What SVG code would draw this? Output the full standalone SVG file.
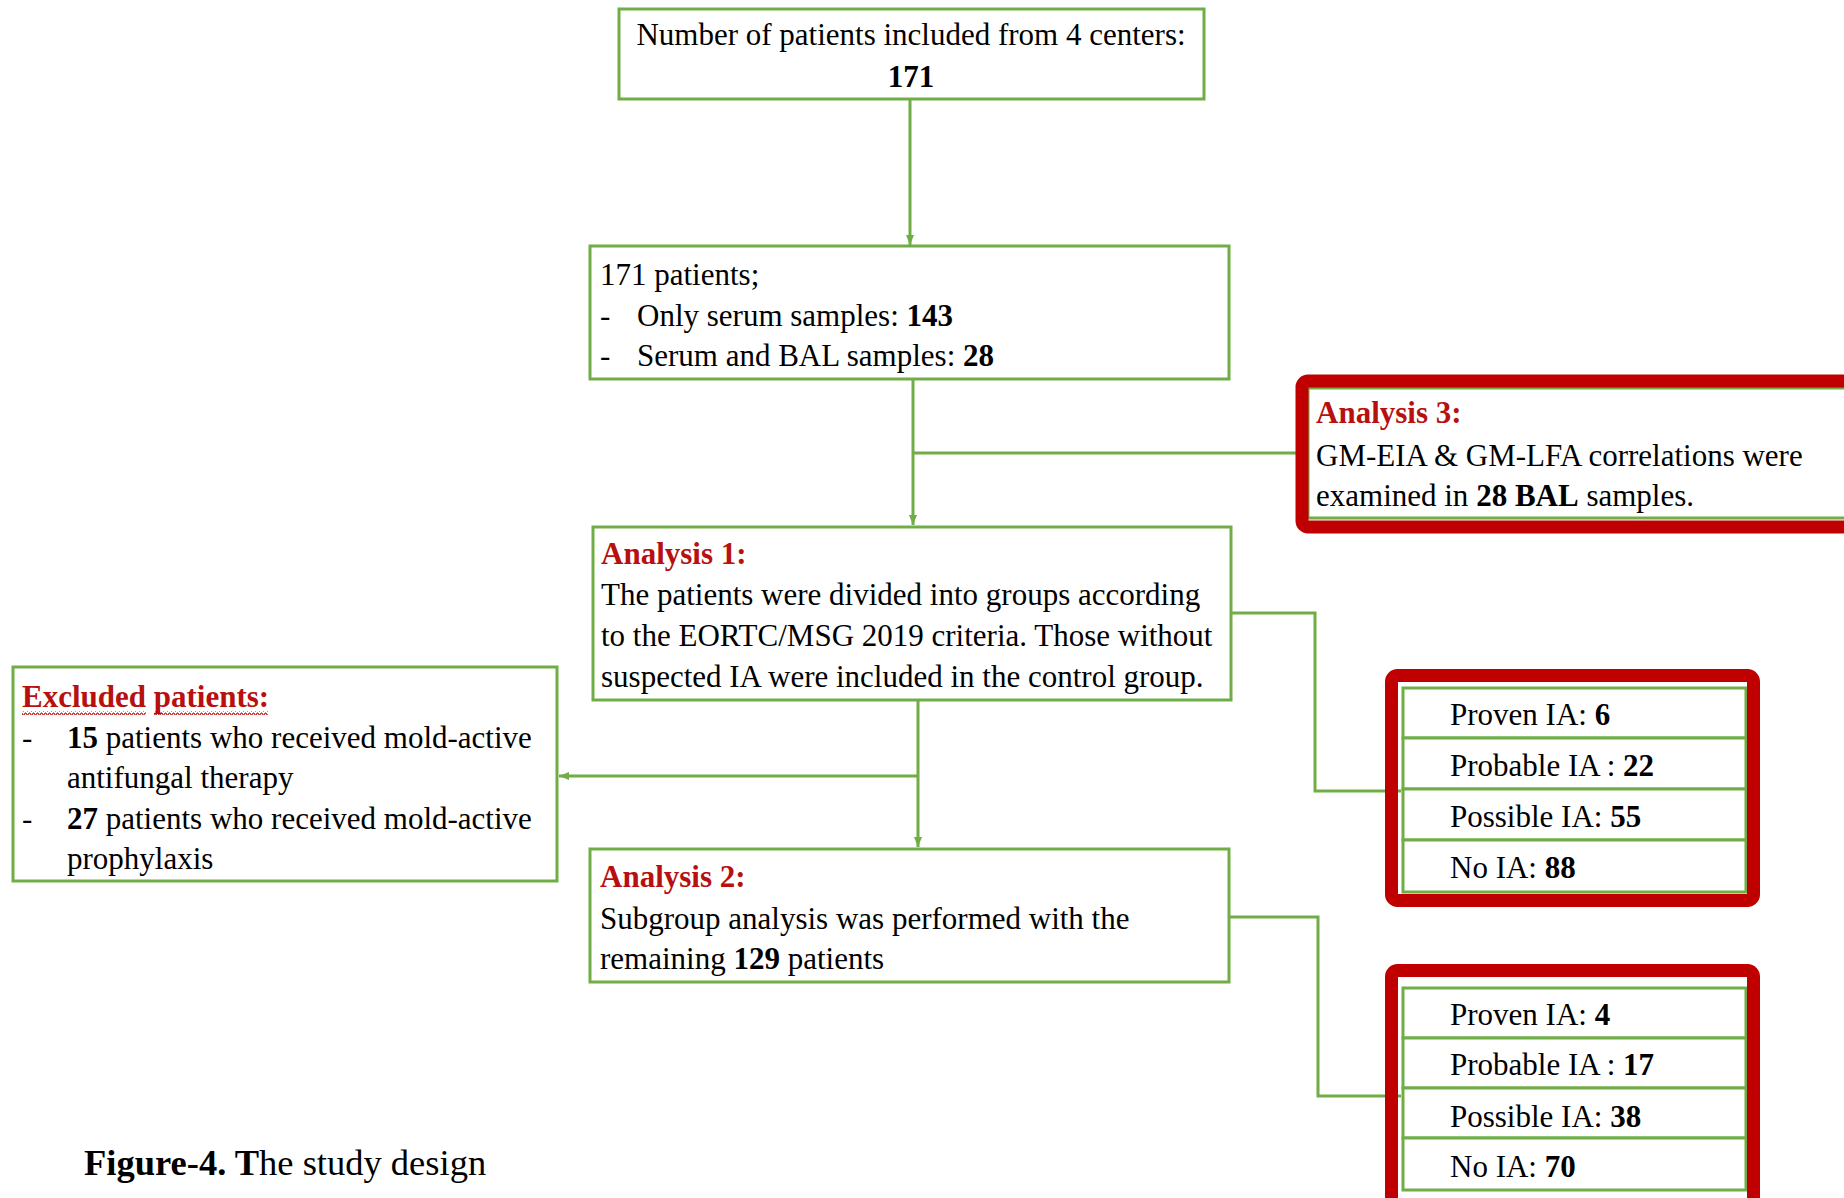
<svg xmlns="http://www.w3.org/2000/svg" width="1844" height="1198" viewBox="0 0 1844 1198">
<style>
  text { font-family: "Liberation Serif", "Times New Roman", serif; font-size: 31px; fill: #000; }
  .b { font-weight: bold; }
  .red { fill: #B80F0F; font-weight: bold; }
  .box { fill: #fff; stroke: #70AD47; stroke-width: 3; }
  .frame { fill: none; stroke: #C00000; stroke-width: 13; }
  .conn { fill: none; stroke: #70AD47; stroke-width: 3; }
  .cap { font-size: 36.5px; }
</style>
<defs>
  <marker id="ah" markerUnits="userSpaceOnUse" markerWidth="10" markerHeight="10" viewBox="0 0 10 10" refX="10" refY="5" orient="auto">
    <path d="M0,1 L10,5 L0,9 z" fill="#70AD47"/>
  </marker>
  <pattern id="wavy" patternUnits="userSpaceOnUse" width="4" height="4">
    <polyline points="0,3 1,1 2,1 3,3 4,3" fill="none" stroke="#C00000" stroke-width="1"/>
  </pattern>
</defs>
<rect width="1844" height="1198" fill="#fff"/>

<g id="connectors">
  <path class="conn" d="M910,99 V245" marker-end="url(#ah)"/>
  <path class="conn" d="M913,379 V525" marker-end="url(#ah)"/>
  <path class="conn" d="M913,453 H1300"/>
  <path class="conn" d="M1231,613 H1315 V791 H1401" marker-end="url(#ah)"/>
  <path class="conn" d="M918,700 V847" marker-end="url(#ah)"/>
  <path class="conn" d="M918,776 H559" marker-end="url(#ah)"/>
  <path class="conn" d="M1229,917 H1318 V1096 H1401" marker-end="url(#ah)"/>
</g>

<g id="node-total">
  <rect class="box" x="619" y="9" width="585" height="90"/>
  <text x="911" y="45" text-anchor="middle">Number of patients included from 4 centers:</text>
  <text x="911" y="87" text-anchor="middle" class="b">171</text>
</g>

<g id="node-samples">
  <rect class="box" x="590" y="246" width="639" height="133"/>
  <text x="600" y="285">171 patients;</text>
  <text x="600" y="326">-</text>
  <text x="637" y="326">Only serum samples: <tspan class="b">143</tspan></text>
  <text x="600" y="366">-</text>
  <text x="637" y="366">Serum and BAL samples: <tspan class="b">28</tspan></text>
</g>

<g id="node-analysis3">
  <rect class="box" x="1308" y="388" width="560" height="130"/>
  <rect class="frame" x="1302" y="381" width="570" height="146" rx="6"/>
  <text x="1316" y="423" class="red">Analysis 3:</text>
  <text x="1316" y="466">GM-EIA &amp; GM-LFA correlations were</text>
  <text x="1316" y="506">examined in <tspan class="b">28 BAL</tspan> samples.</text>
</g>

<g id="node-analysis1">
  <rect class="box" x="593" y="527" width="638" height="173"/>
  <text x="601" y="564" class="red">Analysis 1:</text>
  <text x="601" y="605">The patients were divided into groups according</text>
  <text x="601" y="646">to the EORTC/MSG 2019 criteria. Those without</text>
  <text x="601" y="687">suspected IA were included in the control group.</text>
</g>

<g id="node-excluded">
  <rect class="box" x="13" y="667" width="544" height="214"/>
  <text x="22" y="707" class="red">Excluded patients:</text>
  <rect x="22" y="711" width="124" height="4" fill="url(#wavy)"/>
  <rect x="154" y="711" width="114" height="4" fill="url(#wavy)"/>
  <text x="22" y="748">-</text>
  <text x="67" y="748"><tspan class="b">15</tspan> patients who received mold-active</text>
  <text x="67" y="788">antifungal therapy</text>
  <text x="22" y="829">-</text>
  <text x="67" y="829"><tspan class="b">27</tspan> patients who received mold-active</text>
  <text x="67" y="869">prophylaxis</text>
</g>

<g id="node-analysis2">
  <rect class="box" x="590" y="849" width="639" height="133"/>
  <text x="600" y="887" class="red">Analysis 2:</text>
  <text x="600" y="929">Subgroup analysis was performed with the</text>
  <text x="600" y="969">remaining <tspan class="b">129</tspan> patients</text>
</g>

<g id="node-groups1">
  <rect class="box" x="1403" y="688" width="343" height="50"/>
  <rect class="box" x="1403" y="738" width="343" height="51"/>
  <rect class="box" x="1403" y="789" width="343" height="51"/>
  <rect class="box" x="1403" y="840" width="343" height="52"/>
  <rect class="frame" x="1391.5" y="675.5" width="362" height="225" rx="6"/>
  <text x="1450" y="725">Proven IA: <tspan class="b">6</tspan></text>
  <text x="1450" y="776">Probable IA : <tspan class="b">22</tspan></text>
  <text x="1450" y="827">Possible IA: <tspan class="b">55</tspan></text>
  <text x="1450" y="878">No IA: <tspan class="b">88</tspan></text>
</g>

<g id="node-groups2">
  <rect class="box" x="1403" y="988" width="343" height="50"/>
  <rect class="box" x="1403" y="1038" width="343" height="50"/>
  <rect class="box" x="1403" y="1088" width="343" height="50"/>
  <rect class="box" x="1403" y="1138" width="343" height="52"/>
  <rect class="frame" x="1391.5" y="970.5" width="362" height="236" rx="6"/>
  <text x="1450" y="1025">Proven IA: <tspan class="b">4</tspan></text>
  <text x="1450" y="1075">Probable IA : <tspan class="b">17</tspan></text>
  <text x="1450" y="1127">Possible IA: <tspan class="b">38</tspan></text>
  <text x="1450" y="1177">No IA: <tspan class="b">70</tspan></text>
</g>

<g id="caption">
  <text x="84" y="1175" class="cap"><tspan class="b">Figure-4. T</tspan>he study design</text>
</g>
</svg>
